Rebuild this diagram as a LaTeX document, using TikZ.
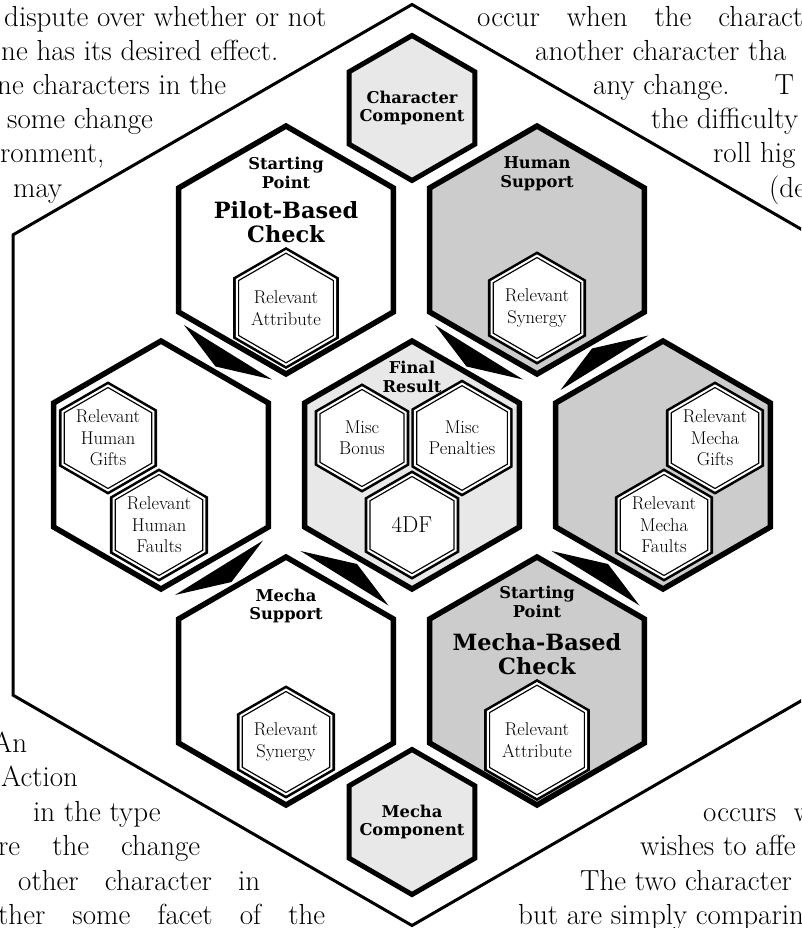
\documentclass[tikz,border=0pt]{standalone}
\usepackage{fontspec}
\newfontfamily\headfont{DejaVu Serif}
\usetikzlibrary{shapes.geometric, calc}
\definecolor{palegray}{HTML}{E8E8E8}
\definecolor{midgray}{HTML}{CCCCCC}

\tikzset{
  hexbase/.style={regular polygon, regular polygon sides=6, shape border rotate=30,
    inner sep=0pt, outer sep=0pt},
  bighex/.style={hexbase, draw, line width=5.5pt, minimum size=248pt},
  comphex/.style={hexbase, draw, line width=5pt, fill=palegray, minimum size=145pt},
  badge/.style={hexbase, preaction={draw, line width=7.2pt}, draw, fill=white,
    line width=1.3pt, double=white, double distance=2pt,
    minimum size=101pt, align=center, font=\fontsize{18.5}{21.5}\selectfont},
  smallhead/.style={inner sep=0pt, align=center, font=\headfont\bfseries\fontsize{16.3}{18.5}\selectfont},
  bighead/.style={inner sep=0pt, align=center, font=\headfont\bfseries\fontsize{22.4}{24}\selectfont},
  body/.style={anchor=base west, inner sep=0pt, font=\fontsize{29}{34}\selectfont},
  swoosh/.pic={\fill (-39.5,-32.5) -- (-8,9) -- (48.5,22) -- cycle;}
}

\begin{document}
\begin{tikzpicture}[x=1pt, y=-1pt]
    \useasboundingbox (0,0) rectangle (801,928);
    \fill[white] (0,0) rectangle (801,928);
    \clip (0,0) rectangle (801,928);

    % outer frame
    \node[hexbase, draw, line width=3pt, minimum size=921pt] (frame) at (412,465) {};

    % component hexes
    \node[comphex] (charcomp) at (412,108) {};
    \node[smallhead] (charcomplabel) at (charcomp) {Character\\Component};
    \node[comphex] (mechcomp) at (412,822) {};
    \node[smallhead] (mechcomplabel) at (mechcomp) {Mecha\\Component};

    % the seven main hexes
    \node[bighex] (pilot) at (286,250) {};
    \node[bighex, fill=midgray] (humsup) at (537,250) {};
    \node[bighex] (humgifts) at (161,465) {};
    \node[bighex, fill=palegray] (final) at (412,465) {};
    \node[bighex, fill=midgray] (mechgifts) at (663,465) {};
    \node[bighex] (mechsup) at (286,681) {};
    \node[bighex, fill=midgray] (mechcheck) at (537,681) {};

    % headings
    \node[smallhead] (pilotstart) at ($(pilot)+(0,-77)$) {Starting\\Point};
    \node[bighead] (pilotname) at ($(pilot)+(0,-28)$) {Pilot-Based\\Check};
    \node[smallhead] (humsuplabel) at ($(humsup)+(0,-76)$) {Human\\Support};
    \node[smallhead] (finallabel) at ($(final)+(0,-88)$) {Final\\Result};
    \node[smallhead] (mechsuplabel) at ($(mechsup)+(0,-75)$) {Mecha\\Support};
    \node[smallhead] (checkstart) at ($(mechcheck)+(0,-79)$) {Starting\\Point};
    \node[bighead] (checkname) at ($(mechcheck)+(0,-27)$) {Mecha-Based\\Check};

    % badges
    \node[badge] (pilotattr) at ($(pilot)+(0,58)$) {Relevant\\Attribute};
    \node[badge] (humsyn) at ($(humsup)+(0,58)$) {Relevant\\Synergy};
    \node[badge] (hgifts) at ($(humgifts)+(-53,-27)$) {Relevant\\Human\\Gifts};
    \node[badge] (hfaults) at ($(humgifts)+(-2,60)$) {Relevant\\Human\\Faults};
    \node[badge] (bonus) at ($(final)+(-50,-27)$) {Misc\\Bonus};
    \node[badge] (penalties) at ($(final)+(50,-27)$) {Misc\\Penalties};
    \node[badge, font=\fontsize{23}{26}\selectfont] (dice) at ($(final)+(0,60)$) {4DF};
    \node[badge] (mgifts) at ($(mechgifts)+(52,-27)$) {Relevant\\Mecha\\Gifts};
    \node[badge] (mfaults) at ($(mechgifts)+(1,60)$) {Relevant\\Mecha\\Faults};
    \node[badge] (mechsyn) at ($(mechsup)+(0,61)$) {Relevant\\Synergy};
    \node[badge] (mechattr) at ($(mechcheck)+(0,59)$) {Relevant\\Attribute};

    % swooshes in the gaps
    \pic at ($(pilot)!.5!(humgifts)$) {swoosh};
    \pic at ($(humsup)!.5!(final)$) {swoosh};
    \pic[yscale=-1] at ($(humsup)!.5!(mechgifts)$) {swoosh};
    \pic[xscale=-1] at ($(humgifts)!.5!(mechsup)$) {swoosh};
    \pic[rotate=180] at ($(final)!.5!(mechsup)$) {swoosh};
    \pic[rotate=180] at ($(mechgifts)!.5!(mechcheck)$) {swoosh};

    % running text round the frame
    \node[body] (tl1) at (4,27) {dispute over whether or not};
    \node[body] (tl2) at (1,61) {ne has its desired effect.};
    \node[body] (tl3) at (-3,95) {ne characters in the};
    \node[body] (tl4) at (7,129) {some change};
    \node[body] (tl5) at (0,163) {ronment,};
    \node[body] (tl6) at (13,197) {may};

    \node[body] (tr1) at (477,27) {\makebox[326pt][s]{occur when the charact}};
    \node[body] (tr2) at (535,61) {another character tha};
    \node[body] (tr3) at (593,95) {any change.\hspace{45pt}T};
    \node[body] (tr4) at (651,129) {the difficulty};
    \node[body] (tr5) at (713,163) {roll hig};
    \node[body] (tr6) at (769,197) {(de};

    \node[body] (bl1) at (-8,752) {An};
    \node[body] (bl2) at (1,786) {Action};
    \node[body] (bl3) at (33,821) {in the type};
    \node[body] (bl4) at (-2,855) {\makebox[202pt][s]{re the change}};
    \node[body] (bl5) at (18,890) {\makebox[242pt][s]{other character in}};
    \node[body] (bl6) at (-2,924) {\makebox[327pt][s]{ther some facet of the}};

    \node[body] (br1) at (703,821) {\makebox[110pt][s]{occurs w}};
    \node[body] (br2) at (640,855) {wishes to affe};
    \node[body] (br3) at (580,890) {The two character};
    \node[body] (br4) at (518,924) {but are simply comparin};
\end{tikzpicture}
\end{document}
